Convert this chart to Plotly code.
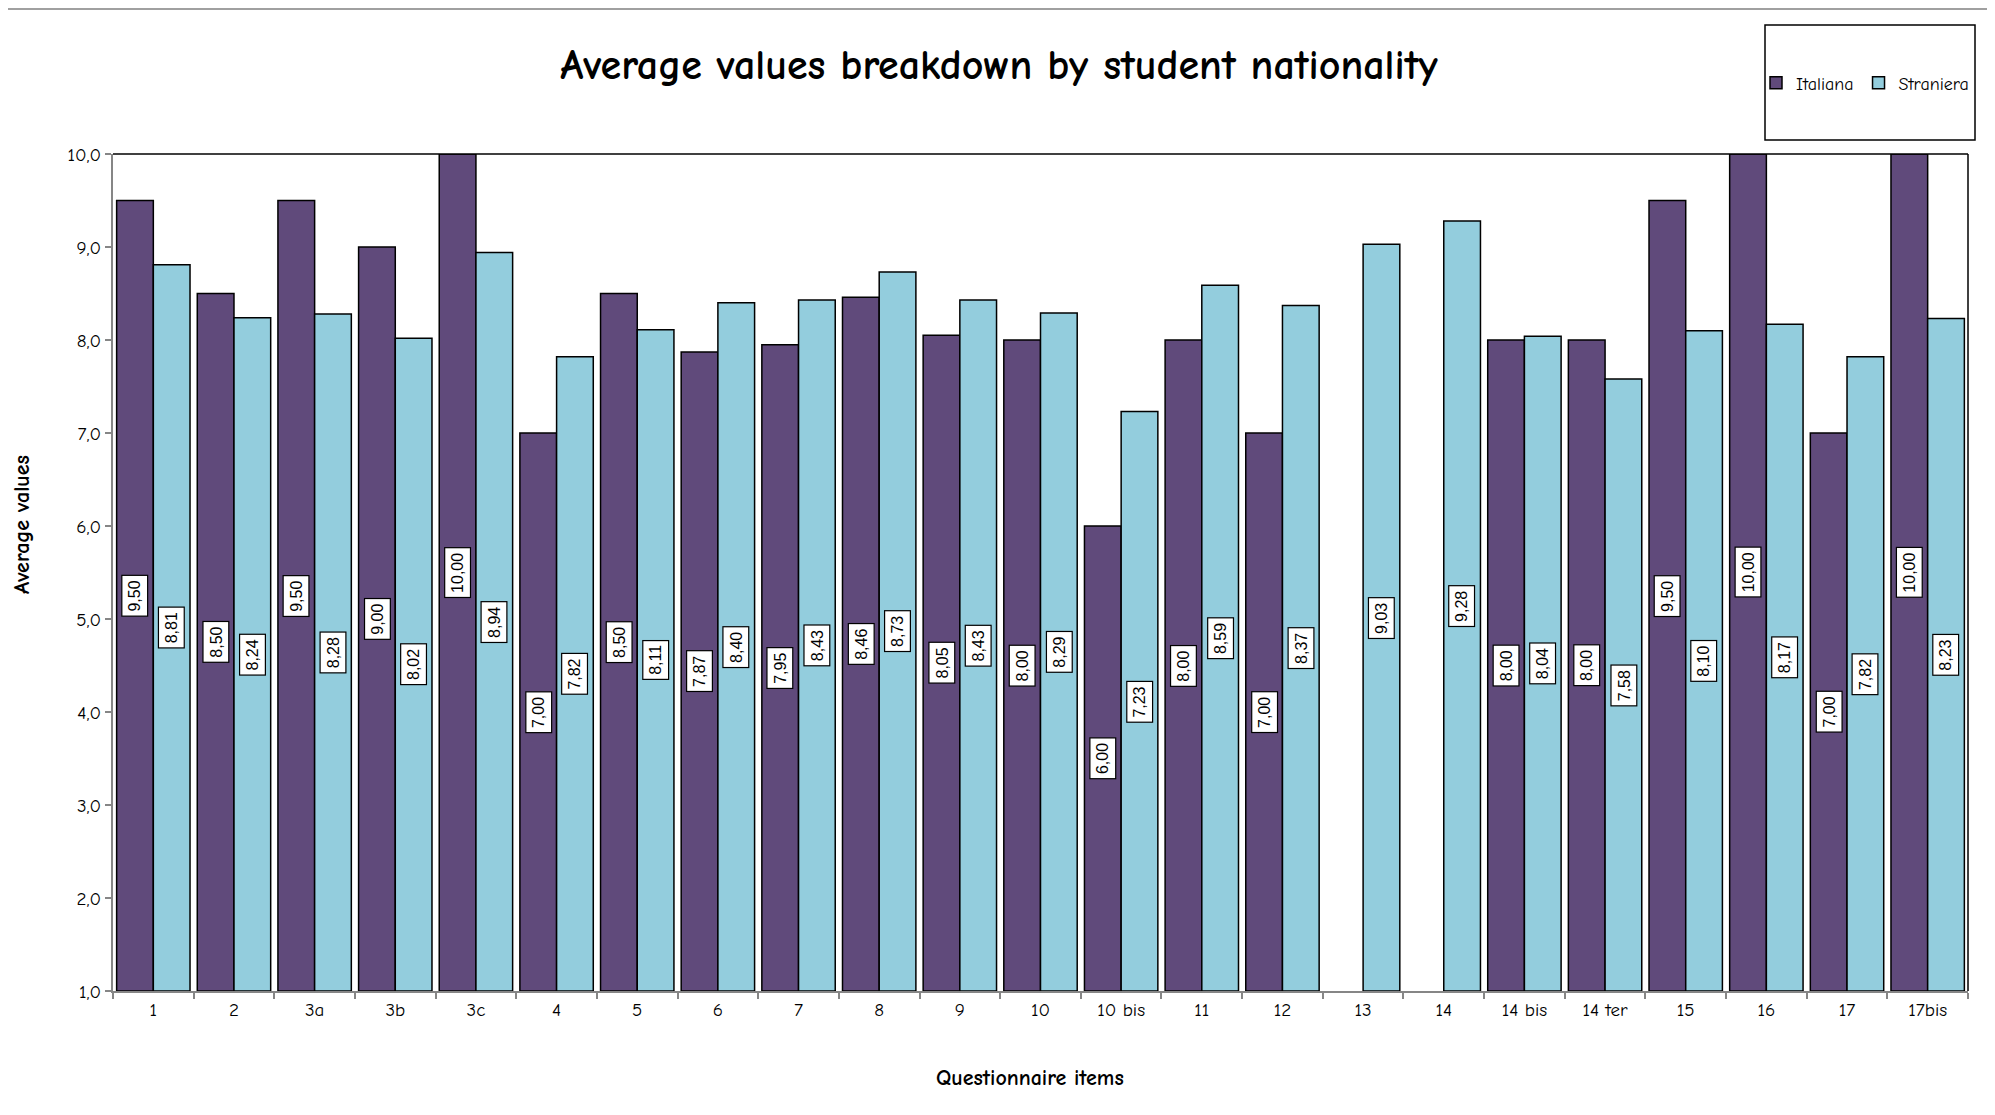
import plotly.graph_objects as go

categories = ["1", "2", "3a", "3b", "3c", "4", "5", "6", "7", "8", "9", "10", "10 bis",
              "11", "12", "13", "14", "14 bis", "14 ter", "15", "16", "17", "17bis"]
italiana = [9.50, 8.50, 9.50, 9.00, 10.00, 7.00, 8.50, 7.87, 7.95, 8.46, 8.05, 8.00, 6.00,
            8.00, 7.00, None, None, 8.00, 8.00, 9.50, 10.00, 7.00, 10.00]
straniera = [8.81, 8.24, 8.28, 8.02, 8.94, 7.82, 8.11, 8.40, 8.43, 8.73, 8.43, 8.29, 7.23,
             8.59, 8.37, 9.03, 9.28, 8.04, 7.58, 8.10, 8.17, 7.82, 8.23]
y_min, y_max = 1.0, 10.0

FONT = "Comic Sans MS, Comic Neue, Lato, sans-serif"
LABEL_FONT = "Liberation Sans, Arial, sans-serif"
C_IT = "#604A7B"
C_ST = "#93CDDD"

OFF = 8  # page body margin
W, H = 1995 - 2 * OFF, 1115 - 2 * OFF
L = 113 - OFF
T = 154 - OFF
R = W - (1968 - OFF)
B = H - (991 - OFF)
pw = W - L - R
ph = H - T - B
bargap = 0.09
cat_w = pw / len(categories)
bar_w = cat_w * (1 - bargap) / 2

fig = go.Figure()
fig.add_trace(go.Bar(x=categories, y=[None if v is None else v - y_min for v in italiana],
                     base=y_min, name="Italiana", marker=dict(color=C_IT, line=dict(color="black", width=1.5))))
fig.add_trace(go.Bar(x=categories, y=[v - y_min for v in straniera],
                     base=y_min, name="Straniera", marker=dict(color=C_ST, line=dict(color="black", width=1.5))))

annotations = []
for series, shift in ((italiana, -bar_w / 2), (straniera, bar_w / 2)):
    for i, v in enumerate(series):
        if v is None:
            continue
        annotations.append(dict(
            x=i, y=(y_min + v) / 2, xref="x", yref="y", xshift=shift,
            text=f"{v:.2f}".replace(".", ","), showarrow=False, textangle=-90,
            font=dict(family=LABEL_FONT, size=16, color="black"),
            bgcolor="white", bordercolor="black", borderwidth=1.2, borderpad=4))


def px_x(px):
    return (px - OFF - L) / pw


def px_y(py):
    return (H - B - (py - OFF)) / ph


annotations.append(dict(x=px_x(22), y=px_y(525), xref="paper", yref="paper", xanchor="center", yanchor="middle",
                        text="<b>Average values</b>", textangle=-90, showarrow=False,
                        font=dict(family=FONT, size=22, color="black")))
annotations.append(dict(x=px_x(1030), y=px_y(1078), xref="paper", yref="paper", xanchor="center", yanchor="middle",
                        text="<b>Questionnaire items</b>", showarrow=False,
                        font=dict(family=FONT, size=22, color="black")))

shapes = [
    dict(type="line", xref="paper", yref="paper", x0=px_x(0), x1=px_x(1995), y0=px_y(9), y1=px_y(9),
         line=dict(color="#A0A0A0", width=2)),
    dict(type="rect", xref="paper", yref="paper", x0=px_x(1765), x1=px_x(1975), y0=px_y(140), y1=px_y(25),
         line=dict(color="black", width=1.5), fillcolor="rgba(0,0,0,0)"),
    dict(type="line", xref="paper", yref="paper", x0=0, x1=1, y0=1, y1=1, line=dict(color="black", width=1.5)),
    dict(type="line", xref="paper", yref="paper", x0=1, x1=1, y0=0, y1=1, line=dict(color="black", width=1.5)),
]

fig.update_layout(
    width=W, height=H,
    margin=dict(l=L, r=R, t=T, b=B, autoexpand=False),
    paper_bgcolor="white", plot_bgcolor="white",
    barmode="group", bargap=bargap, bargroupgap=0,
    separators=", ",
    title=dict(text="<b>Average values breakdown by student nationality</b>", x=(999 - OFF) / W, xanchor="center",
               y=1 - (64 - OFF) / H, yanchor="middle", font=dict(family=FONT, size=42, color="black")),
    legend=dict(orientation="h", xref="container", yref="container",
                x=(1756 - OFF) / W, xanchor="left", y=1 - (83 - OFF) / H, yanchor="middle",
                font=dict(family=FONT, size=18, color="black"), bgcolor="rgba(0,0,0,0)",
                itemwidth=30, tracegroupgap=0),
    font=dict(family=FONT, color="black"),
    annotations=annotations,
    shapes=shapes,
)
fig.update_xaxes(type="category", showline=True, linecolor="#868686", linewidth=2,
                 ticks="outside", tickson="boundaries", tickcolor="#868686", ticklen=6, tickwidth=1.5,
                 tickfont=dict(family=FONT, size=19, color="black"), showgrid=False)
fig.update_yaxes(range=[y_min, y_max], dtick=1, tick0=1, tickformat=".1f", showline=True,
                 linecolor="#868686", linewidth=2, ticks="outside", tickcolor="#868686", ticklen=6,
                 tickwidth=1.5, tickfont=dict(family=FONT, size=19, color="black"), showgrid=False,
                 zeroline=False)

fig.write_html("out.html")
